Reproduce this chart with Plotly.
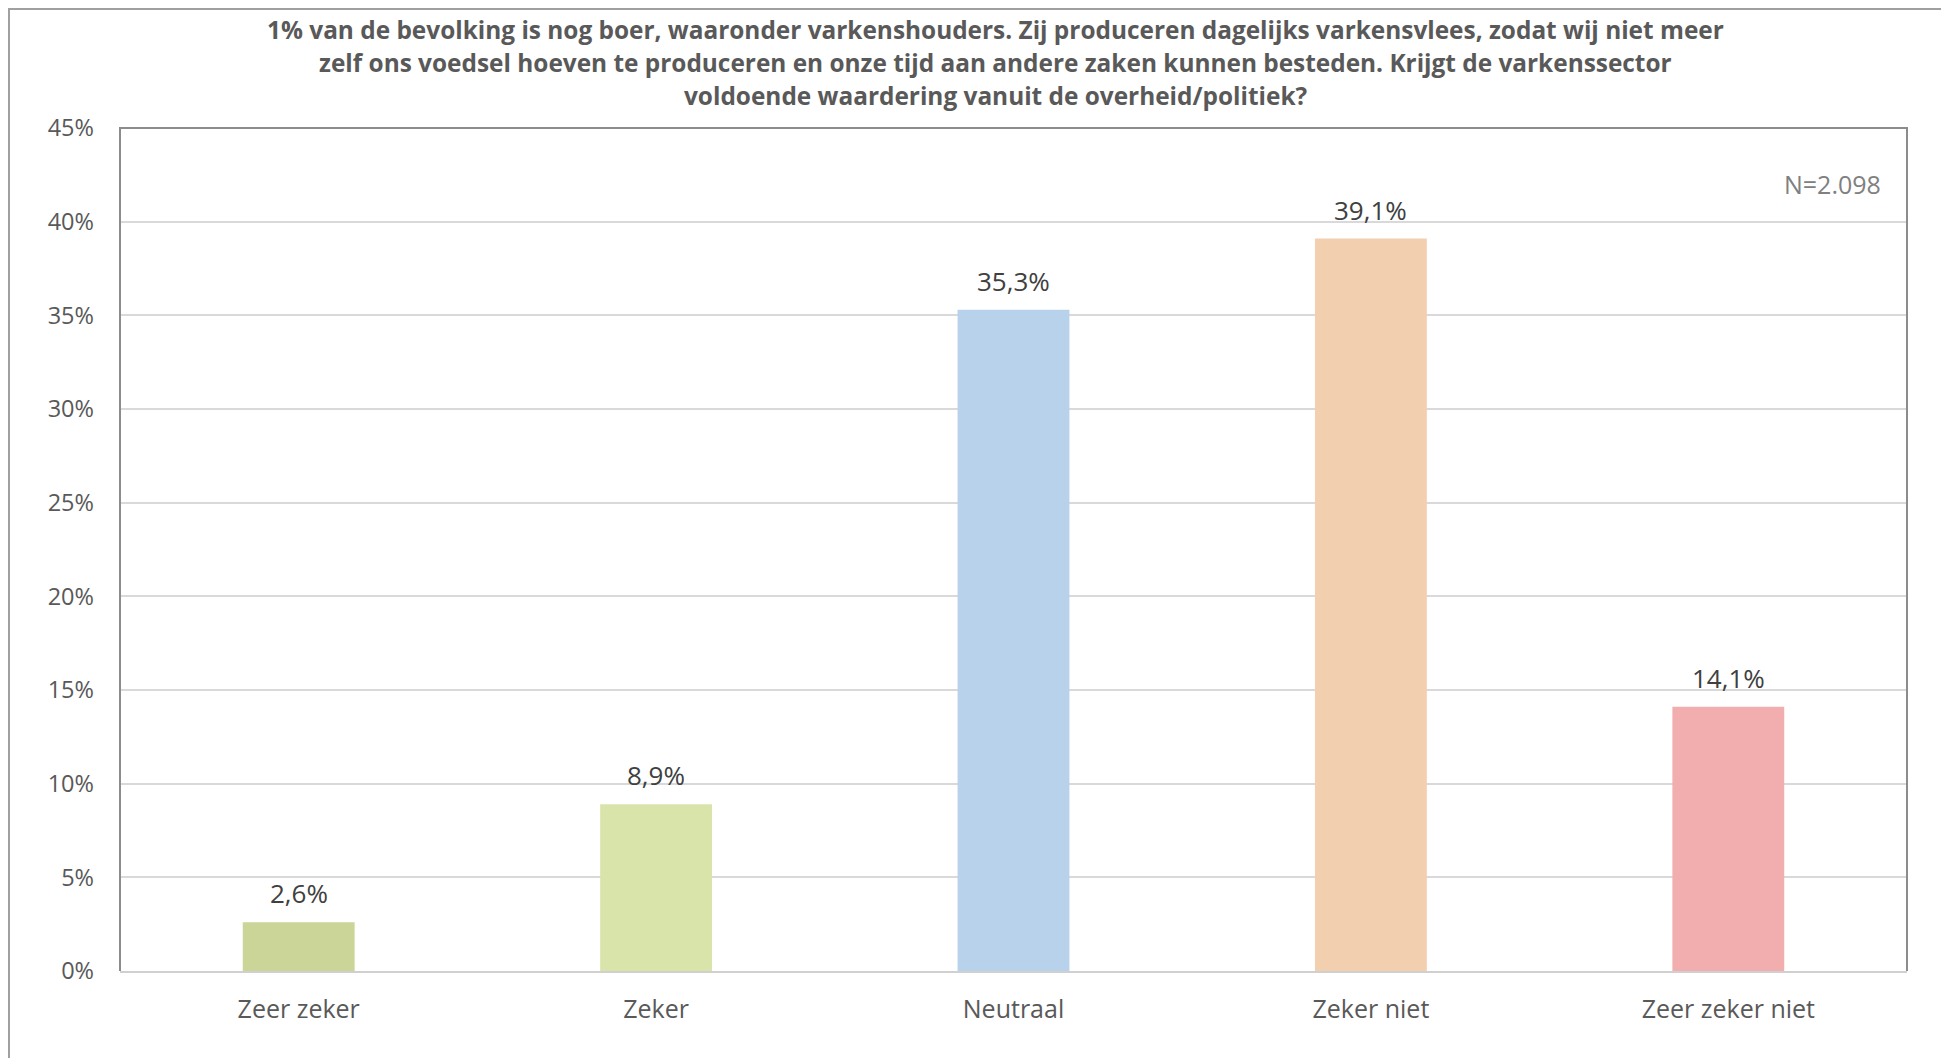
import plotly.graph_objects as go

categories = ["Zeer zeker", "Zeker", "Neutraal", "Zeker niet", "Zeer zeker niet"]
values = [2.6, 8.9, 35.3, 39.1, 14.1]
colors = ["#cbd597", "#d8e4aa", "#b8d2eb", "#f2cfae", "#f2aeae"]
tick_vals = [0, 5, 10, 15, 20, 25, 30, 35, 40, 45]
tick_text = [f"{v}%" for v in tick_vals]
labels = [f"{v:.1f}%".replace(".", ",") for v in values]
title_lines = [
    "1% van de bevolking is nog boer, waaronder varkenshouders. Zij produceren dagelijks varkensvlees, zodat wij niet meer",
    "zelf ons voedsel hoeven te produceren en onze tijd aan andere zaken kunnen besteden. Krijgt de varkenssector",
    "voldoende waardering vanuit de overheid/politiek?",
]
note = "N=2.098"

FONT = "Open Sans"
W, H = 1941, 1050
ML, MR, MT, MB = 112, 42, 120, 87
PW, PH = W - ML - MR, H - MT - MB


def py(fig_y):
    return 1 - (fig_y - MT) / PH


def px(fig_x):
    return (fig_x - ML) / PW


fig = go.Figure()
fig.add_trace(go.Bar(x=categories, y=values, marker=dict(color=colors, line=dict(width=0)),
                     hoverinfo="x+y"))

for c, v, t in zip(categories, values, labels):
    fig.add_annotation(x=c, y=v, text=t, showarrow=False, yanchor="bottom", yshift=9,
                       font=dict(family=FONT, size=26, color="#404040"))

fig.add_annotation(x=1.0, xref="paper", xanchor="right", xshift=-24,
                   y=py(176), yref="paper", yanchor="middle",
                   text=note, showarrow=False, font=dict(family=FONT, size=25, color="#808080"))

# Title, one annotation per line
for line, fy in zip(title_lines, [22, 55, 88]):
    fig.add_annotation(x=0.5, xref="paper", xanchor="center", xshift=-18,
                       y=py(fy), yref="paper", yanchor="middle",
                       text=f"<b>{line}</b>", showarrow=False,
                       font=dict(family=FONT, size=24.4, color="#595959"))

# plot area border (left, top, right)
fig.add_shape(type="path", xref="paper", yref="paper", path="M0,0 L0,1 L1,1 L1,0",
              line=dict(color="#8c8c8c", width=2))
# outer chart border
fig.add_shape(type="rect", xref="paper", yref="paper", x0=px(1), x1=px(1935), y0=py(H + 20), y1=py(1),
              line=dict(color="#a0a0a0", width=2))

fig.update_layout(
    width=W, height=H,
    margin=dict(l=ML, r=MR, t=MT, b=MB),
    paper_bgcolor="white", plot_bgcolor="white",
    bargap=0.687, showlegend=False,
    font=dict(family=FONT, color="#595959"),
    xaxis=dict(showline=True, linecolor="#d0d0d0", linewidth=2, ticks="",
               tickfont=dict(family=FONT, size=25, color="#595959"), ticklabelstandoff=15),
    yaxis=dict(range=[0, 45], tickvals=tick_vals, ticktext=tick_text, showgrid=True,
               gridcolor="#d9d9d9", gridwidth=1.5, zeroline=False, showline=False, ticks="",
               tickfont=dict(family=FONT, size=23.5, color="#595959"), ticklabelstandoff=25),
)

fig.write_html("out.html")
